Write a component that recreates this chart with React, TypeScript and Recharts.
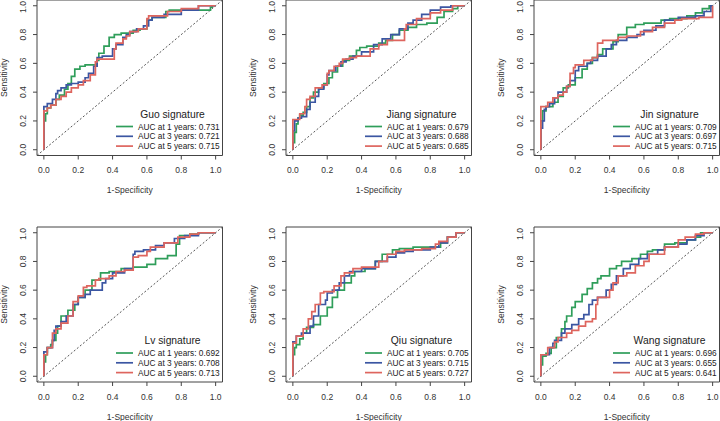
import React from 'react';
import { LineChart, Line, XAxis, YAxis, ReferenceLine, ReferenceArea } from 'recharts';

type Pt = [number, number];

const ticks = [0, 0.2, 0.4, 0.6, 0.8, 1.0];
const yearLabels = ['1', '3', '5'];
const colors = ['#2f9e5a', '#3b56a2', '#de655e'];

// Guo
const guo1: Pt[] = [[0,0],[0,0.12],[0.01,0.2],[0.02,0.25],[0.04,0.29],[0.07,0.31],[0.09,0.35],[0.12,0.38],[0.14,0.42],[0.16,0.46],[0.18,0.51],[0.21,0.56],[0.24,0.58],[0.27,0.59],[0.31,0.59],[0.32,0.62],[0.35,0.67],[0.38,0.72],[0.41,0.78],[0.45,0.8],[0.52,0.81],[0.56,0.83],[0.6,0.84],[0.63,0.9],[0.71,0.92],[0.73,0.96],[0.8,0.97],[0.97,0.97],[0.98,0.99],[1,1]];
const guo3: Pt[] = [[0,0],[0,0.28],[0.02,0.3],[0.05,0.32],[0.07,0.35],[0.08,0.39],[0.1,0.41],[0.13,0.43],[0.16,0.45],[0.2,0.46],[0.24,0.47],[0.26,0.5],[0.29,0.53],[0.31,0.58],[0.31,0.62],[0.34,0.64],[0.4,0.65],[0.42,0.7],[0.46,0.73],[0.48,0.78],[0.5,0.8],[0.54,0.82],[0.58,0.84],[0.61,0.86],[0.63,0.9],[0.7,0.92],[0.8,0.94],[0.9,0.97],[0.97,1],[1,1]];
const guo5: Pt[] = [[0,0],[0,0.25],[0.02,0.27],[0.04,0.29],[0.07,0.31],[0.1,0.35],[0.13,0.37],[0.16,0.4],[0.2,0.43],[0.23,0.45],[0.27,0.48],[0.3,0.52],[0.31,0.61],[0.33,0.63],[0.41,0.63],[0.42,0.7],[0.46,0.74],[0.48,0.77],[0.5,0.79],[0.55,0.82],[0.6,0.84],[0.61,0.91],[0.63,0.93],[0.72,0.93],[0.8,0.96],[0.9,0.98],[0.96,1],[1,1]];

// Jiang
const jiang1: Pt[] = [[0,0],[0.01,0.05],[0.02,0.12],[0.03,0.18],[0.04,0.22],[0.06,0.24],[0.08,0.26],[0.1,0.3],[0.12,0.36],[0.15,0.4],[0.18,0.43],[0.21,0.46],[0.23,0.5],[0.26,0.54],[0.29,0.58],[0.33,0.62],[0.37,0.65],[0.39,0.69],[0.43,0.71],[0.5,0.72],[0.54,0.74],[0.58,0.76],[0.62,0.8],[0.67,0.83],[0.72,0.85],[0.78,0.87],[0.84,0.88],[0.88,0.92],[0.93,0.96],[0.96,0.98],[1,1]];
const jiang3: Pt[] = [[0,0],[0,0.05],[0.01,0.13],[0.03,0.2],[0.05,0.22],[0.08,0.23],[0.1,0.28],[0.13,0.33],[0.15,0.37],[0.18,0.42],[0.2,0.45],[0.21,0.52],[0.25,0.55],[0.28,0.58],[0.31,0.61],[0.35,0.63],[0.4,0.65],[0.47,0.68],[0.52,0.73],[0.57,0.77],[0.62,0.8],[0.67,0.84],[0.7,0.88],[0.75,0.9],[0.8,0.94],[0.86,0.97],[0.92,0.99],[0.96,1],[1,1]];
const jiang5: Pt[] = [[0,0],[0,0.2],[0.04,0.21],[0.07,0.25],[0.08,0.3],[0.1,0.35],[0.13,0.37],[0.17,0.43],[0.2,0.45],[0.21,0.53],[0.24,0.55],[0.27,0.58],[0.29,0.6],[0.33,0.63],[0.37,0.64],[0.45,0.65],[0.5,0.7],[0.55,0.73],[0.6,0.76],[0.65,0.76],[0.66,0.84],[0.72,0.87],[0.8,0.91],[0.86,0.95],[0.93,0.97],[0.96,1],[1,1]];

// Jin
const jin1: Pt[] = [[0,0],[0,0.12],[0.01,0.2],[0.03,0.27],[0.07,0.3],[0.1,0.33],[0.13,0.37],[0.16,0.43],[0.2,0.45],[0.24,0.5],[0.27,0.56],[0.3,0.6],[0.33,0.64],[0.36,0.66],[0.42,0.7],[0.45,0.75],[0.5,0.8],[0.55,0.85],[0.6,0.87],[0.7,0.88],[0.75,0.9],[0.85,0.91],[0.9,0.93],[0.94,0.95],[0.98,0.98],[1,1]];
const jin3: Pt[] = [[0,0],[0.01,0.15],[0.02,0.2],[0.03,0.28],[0.05,0.3],[0.08,0.32],[0.1,0.36],[0.15,0.4],[0.17,0.44],[0.2,0.48],[0.22,0.55],[0.27,0.58],[0.29,0.6],[0.33,0.62],[0.38,0.65],[0.41,0.7],[0.44,0.73],[0.5,0.76],[0.56,0.78],[0.6,0.8],[0.67,0.83],[0.72,0.86],[0.8,0.9],[0.9,0.92],[0.95,0.93],[0.99,0.96],[1,1]];
const jin5: Pt[] = [[0,0],[0,0.29],[0.04,0.3],[0.07,0.33],[0.1,0.36],[0.13,0.38],[0.15,0.4],[0.17,0.44],[0.19,0.53],[0.2,0.57],[0.25,0.59],[0.3,0.62],[0.33,0.64],[0.36,0.74],[0.45,0.76],[0.5,0.78],[0.58,0.79],[0.65,0.82],[0.72,0.85],[0.78,0.88],[0.82,0.9],[0.92,0.91],[0.97,0.92],[1,0.92],[1,1]];

// Lv
const lv1: Pt[] = [[0,0],[0.01,0.1],[0.02,0.15],[0.04,0.2],[0.05,0.22],[0.07,0.25],[0.08,0.3],[0.1,0.35],[0.14,0.42],[0.18,0.46],[0.2,0.5],[0.24,0.55],[0.28,0.6],[0.33,0.67],[0.38,0.72],[0.45,0.73],[0.52,0.75],[0.6,0.76],[0.65,0.78],[0.72,0.82],[0.77,0.84],[0.79,0.92],[0.85,0.98],[0.9,0.99],[0.96,1],[1,1]];
const lv3: Pt[] = [[0,0],[0,0.1],[0.02,0.17],[0.05,0.2],[0.06,0.25],[0.07,0.32],[0.1,0.35],[0.13,0.38],[0.17,0.42],[0.2,0.5],[0.24,0.55],[0.27,0.57],[0.34,0.6],[0.36,0.65],[0.4,0.68],[0.47,0.72],[0.52,0.75],[0.53,0.85],[0.58,0.87],[0.65,0.88],[0.7,0.91],[0.76,0.93],[0.82,0.96],[0.9,0.98],[0.96,1],[1,1]];
const lv5: Pt[] = [[0,0],[0,0.08],[0.02,0.15],[0.05,0.2],[0.07,0.3],[0.1,0.33],[0.14,0.37],[0.17,0.42],[0.2,0.52],[0.23,0.56],[0.25,0.62],[0.3,0.63],[0.32,0.67],[0.38,0.68],[0.42,0.7],[0.47,0.73],[0.52,0.74],[0.55,0.83],[0.6,0.84],[0.62,0.87],[0.7,0.9],[0.78,0.93],[0.85,0.97],[0.9,0.99],[0.95,1],[1,1]];

// Qiu
const qiu1: Pt[] = [[0,0],[0,0.05],[0.01,0.15],[0.02,0.2],[0.04,0.22],[0.06,0.26],[0.08,0.3],[0.12,0.34],[0.16,0.36],[0.2,0.42],[0.23,0.48],[0.26,0.55],[0.3,0.6],[0.34,0.65],[0.36,0.7],[0.42,0.73],[0.48,0.75],[0.52,0.8],[0.58,0.85],[0.62,0.88],[0.7,0.89],[0.8,0.9],[0.86,0.9],[0.9,0.93],[0.95,0.97],[1,1]];
const qiu3: Pt[] = [[0,0],[0,0.19],[0.02,0.24],[0.05,0.28],[0.1,0.3],[0.12,0.35],[0.15,0.42],[0.19,0.5],[0.2,0.53],[0.23,0.58],[0.27,0.6],[0.3,0.65],[0.33,0.7],[0.4,0.73],[0.48,0.75],[0.55,0.8],[0.6,0.83],[0.65,0.86],[0.7,0.87],[0.8,0.88],[0.85,0.9],[0.9,0.93],[0.95,0.97],[1,1]];
const qiu5: Pt[] = [[0,0],[0,0.17],[0.02,0.23],[0.06,0.28],[0.09,0.33],[0.11,0.4],[0.13,0.45],[0.16,0.5],[0.18,0.58],[0.24,0.59],[0.28,0.63],[0.3,0.7],[0.35,0.72],[0.4,0.75],[0.5,0.76],[0.55,0.8],[0.6,0.85],[0.65,0.87],[0.75,0.88],[0.83,0.89],[0.85,0.92],[0.9,0.94],[0.95,0.97],[1,1]];

// Wang
const wang1: Pt[] = [[0,0],[0,0.02],[0.01,0.08],[0.03,0.14],[0.06,0.16],[0.09,0.2],[0.12,0.27],[0.14,0.33],[0.15,0.38],[0.18,0.42],[0.2,0.48],[0.24,0.52],[0.27,0.57],[0.3,0.61],[0.33,0.65],[0.35,0.68],[0.4,0.7],[0.44,0.75],[0.47,0.77],[0.53,0.8],[0.58,0.82],[0.62,0.85],[0.65,0.87],[0.72,0.88],[0.78,0.92],[0.85,0.93],[0.9,0.95],[0.93,0.97],[1,1]];
const wang3: Pt[] = [[0,0],[0,0.14],[0.05,0.15],[0.07,0.2],[0.08,0.23],[0.12,0.25],[0.14,0.3],[0.18,0.33],[0.22,0.36],[0.25,0.4],[0.28,0.43],[0.3,0.5],[0.33,0.53],[0.38,0.55],[0.41,0.6],[0.44,0.64],[0.48,0.7],[0.52,0.75],[0.57,0.78],[0.62,0.82],[0.68,0.85],[0.72,0.88],[0.8,0.9],[0.85,0.92],[0.9,0.95],[0.95,0.98],[1,1]];
const wang5: Pt[] = [[0,0],[0,0.14],[0.04,0.15],[0.08,0.2],[0.1,0.24],[0.15,0.27],[0.18,0.3],[0.22,0.32],[0.26,0.35],[0.3,0.38],[0.32,0.4],[0.33,0.5],[0.4,0.55],[0.42,0.6],[0.45,0.65],[0.5,0.7],[0.55,0.72],[0.6,0.77],[0.63,0.8],[0.72,0.85],[0.8,0.9],[0.84,0.95],[0.9,0.97],[0.95,0.99],[1,1]];

const panelNames = ['Guo', 'Jiang', 'Jin', 'Lv', 'Qiu', 'Wang'];
const panelCurves: Pt[][][] = [
  [guo1, guo3, guo5],
  [jiang1, jiang3, jiang5],
  [jin1, jin3, jin5],
  [lv1, lv3, lv5],
  [qiu1, qiu3, qiu5],
  [wang1, wang3, wang5],
];
const panelAucs = [
  [0.731, 0.721, 0.715],
  [0.679, 0.688, 0.685],
  [0.709, 0.697, 0.715],
  [0.692, 0.708, 0.713],
  [0.705, 0.715, 0.727],
  [0.696, 0.655, 0.641],
];

// plot box positions on the page
const boxLefts = [37.4, 285.8, 534.1];
const boxTops = [0.3, 226.6];
const boxW = 185.5;
const boxHs = [155.5, 155];
const YW = 40;
const TOP = 2;

const FONT = '"Liberation Sans", Arial, sans-serif';

const XTick = ({ x, y, payload }: any) => (
  <text x={x} y={y + 8.5} textAnchor="middle" dominantBaseline="central" fontSize={8.5} fill="#333" fontFamily={FONT}>
    {Number(payload.value).toFixed(1)}
  </text>
);

const YTick = ({ x, y, payload }: any) => (
  <text x={x - 8} y={y} textAnchor="middle" dominantBaseline="central" fontSize={8.5} fill="#333" fontFamily={FONT}
    transform={`rotate(-90, ${x - 8}, ${y})`}>
    {Number(payload.value).toFixed(1)}
  </text>
);

const Panel = ({ idx }: { idx: number }) => {
  const col = idx % 3;
  const row = Math.floor(idx / 3);
  const boxH = boxHs[row];
  const left = boxLefts[col] - YW;
  const top = boxTops[row] - TOP;
  const width = YW + boxW + 3;
  const height = TOP + boxH + 44;
  const bx = YW + boxW;
  const by = TOP + boxH;
  const curves = panelCurves[idx];

  return (
    <div style={{ position: 'absolute', left, top }}>
      <LineChart width={width} height={height} margin={{ top: TOP, right: 3, left: 0, bottom: 0 }}>
        <XAxis type="number" dataKey="x" domain={[-0.04, 1.04]} ticks={ticks} allowDataOverflow
          tickSize={4} tick={<XTick />} axisLine={false} tickLine={{ stroke: '#444' }} height={44} />
        <YAxis type="number" dataKey="y" domain={[-0.04, 1.04]} ticks={ticks} allowDataOverflow
          tickSize={4} tick={<YTick />} axisLine={false} tickLine={{ stroke: '#444' }} width={YW} />
        <ReferenceArea x1={-0.04} x2={1.04} y1={-0.04} y2={1.04} fill="none" stroke="#444" strokeWidth={1} ifOverflow="visible" />
        <ReferenceLine segment={[{ x: -0.04, y: -0.04 }, { x: 1.04, y: 1.04 }]} stroke="#555" strokeDasharray="2 2" strokeWidth={1} />
        {curves.map((c, i) => (
          <Line key={i} data={c.map(([x, y]) => ({ x, y }))} dataKey="y" type="stepBefore" stroke={colors[i]}
            strokeWidth={1.7} dot={false} activeDot={false} isAnimationActive={false} />
        ))}
        <text x={YW / 2 - 13.5} y={TOP + boxH / 2} textAnchor="middle" dominantBaseline="central" fontSize={8.5}
          fill="#333" fontFamily={FONT} transform={`rotate(-90, ${YW / 2 - 13.5}, ${TOP + boxH / 2})`}>Sensitivity</text>
        <text x={YW + boxW / 2} y={by + 34.5} textAnchor="middle" dominantBaseline="central" fontSize={8.5}
          fill="#333" fontFamily={FONT}>1-Specificity</text>
        <g fontFamily={FONT}>
          <text x={bx - 50} y={by - 41.4} textAnchor="middle" dominantBaseline="central" fontSize={10.3} fill="#222">
            {panelNames[idx]} signature
          </text>
          {yearLabels.map((yr, i) => {
            const yy = by - 29 + i * 9.8;
            return (
              <g key={yr}>
                <line x1={bx - 106.5} x2={bx - 89.5} y1={yy} y2={yy} stroke={colors[i]} strokeWidth={1.7} />
                <text x={bx - 84.5} y={yy} dominantBaseline="central" fontSize={8.3} fill="#222">
                  {`AUC at ${yr} years: ${panelAucs[idx][i].toFixed(3)}`}
                </text>
              </g>
            );
          })}
        </g>
      </LineChart>
    </div>
  );
};

export default function App() {
  return (
    <div style={{ position: 'absolute', left: 0, top: 0, width: 720, height: 421, background: '#fff', overflow: 'hidden' }}>
      {panelNames.map((_, i) => <Panel key={i} idx={i} />)}
    </div>
  );
}
